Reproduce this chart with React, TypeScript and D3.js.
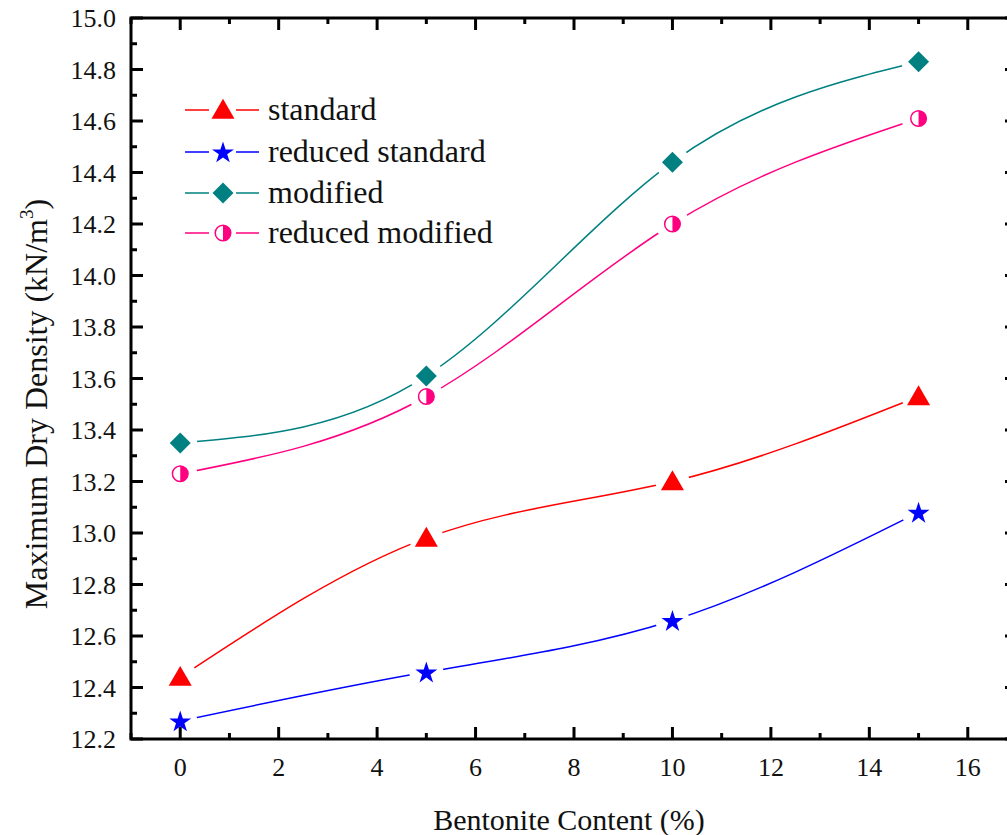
import React from 'react';
import * as d3 from 'd3';

const bentonite = [0, 5, 10, 15];
const standard = [12.44, 12.98, 13.2, 13.53];
const reducedStandard = [12.27, 12.46, 12.66, 13.08];
const modified = [13.35, 13.61, 14.44, 14.83];
const reducedModified = [13.23, 13.53, 14.2, 14.61];
const seriesNames = ['standard', 'reduced standard', 'modified', 'reduced modified'];
const xTicks = [0, 2, 4, 6, 8, 10, 12, 14, 16];
const yTicks = [12.2, 12.4, 12.6, 12.8, 13.0, 13.2, 13.4, 13.6, 13.8, 14.0, 14.2, 14.4, 14.6, 14.8, 15.0];

const W = 1007, H = 835;
const L = 131, R = 1017, T = 18, B = 739;
const ts = { fontFamily: "'Liberation Serif'" };

const x = d3.scaleLinear().domain([-1, 17]).range([L, R]);
const y = d3.scaleLinear().domain([12.2, 15.0]).range([B, T]);

const series = [
  { name: seriesNames[0], values: standard, color: '#FF0000', marker: 'triangle' },
  { name: seriesNames[1], values: reducedStandard, color: '#0000FF', marker: 'star' },
  { name: seriesNames[2], values: modified, color: '#008080', marker: 'diamond' },
  { name: seriesNames[3], values: reducedModified, color: '#FF0080', marker: 'halfcircle' },
];

function Marker({ type, cx, cy, color }: { type: string; cx: number; cy: number; color: string }) {
  if (type === 'triangle') {
    const p = d3.symbol().type(d3.symbolTriangle).size(230)();
    return <path d={p as string} transform={`translate(${cx},${cy + 2})`} fill={color} />;
  }
  if (type === 'star') {
    const p = d3.symbol().type(d3.symbolStar).size(150)();
    return <path d={p as string} transform={`translate(${cx},${cy + 1})`} fill={color} />;
  }
  if (type === 'diamond') {
    const s = 10.5;
    return <path d={`M${cx},${cy - s}L${cx + s},${cy}L${cx},${cy + s}L${cx - s},${cy}Z`} fill={color} />;
  }
  const r = 7.8;
  return (
    <g>
      <circle cx={cx} cy={cy} r={r} fill="#fff" stroke={color} strokeWidth={1.5} />
      <path d={`M${cx},${cy - r}A${r},${r} 0 0 1 ${cx},${cy + r}Z`} fill={color} />
    </g>
  );
}

export default function App() {
  const line = d3.line<number>().curve(d3.curveNatural);
  const minorX = d3.range(-1, 17.01, 1);
  const minorY = d3.range(12.2, 15.001, 0.1);
  const legendY = [110, 152, 193, 233];
  return (
    <svg width={W} height={H} style={{ position: 'absolute', left: 0, top: 0, background: '#fff' }}>
      <defs>
        {series.map((s, i) => (
          <mask id={`m${i}`} key={i} maskUnits="userSpaceOnUse" x={0} y={0} width={W} height={H}>
            <rect x={0} y={0} width={W} height={H} fill="#fff" />
            {bentonite.map((b, j) => (
              <circle key={j} cx={x(b)} cy={y(s.values[j])} r={17} fill="#000" />
            ))}
          </mask>
        ))}
      </defs>
      <rect x={L} y={T} width={R - L} height={B - T} fill="none" stroke="#000" strokeWidth={3} />
      {minorX.map((v) => {
        const major = Math.round(v) % 2 === 0;
        const len = major ? 12 : 6;
        return (
          <g key={`x${v}`}>
            <line x1={x(v)} x2={x(v)} y1={B} y2={B - len} stroke="#000" strokeWidth={3} />
            <line x1={x(v)} x2={x(v)} y1={T} y2={T + len} stroke="#000" strokeWidth={3} />
          </g>
        );
      })}
      {minorY.map((v, i) => {
        const major = i % 2 === 0;
        const len = major ? 12 : 6;
        return (
          <g key={`y${i}`}>
            <line x1={L} x2={L + len} y1={y(v)} y2={y(v)} stroke="#000" strokeWidth={3} />
            <line x1={R} x2={R - len} y1={y(v)} y2={y(v)} stroke="#000" strokeWidth={3} />
          </g>
        );
      })}
      {xTicks.map((v) => (
        <text key={`xl${v}`} x={x(v)} y={776} fontSize={26} textAnchor="middle" fill="#111" style={ts}>{v}</text>
      ))}
      {yTicks.map((v) => (
        <text key={`yl${v}`} x={116} y={y(v) + 9} fontSize={26} textAnchor="end" fill="#111" style={ts}>{v.toFixed(1)}</text>
      ))}
      <text x={569} y={830} fontSize={30} textAnchor="middle" fill="#111" style={ts}>Bentonite Content (%)</text>
      <text transform={`translate(47,404) rotate(-90)`} fontSize={32} textAnchor="middle" fill="#111" style={ts}>
        Maximum Dry Density (kN/m<tspan dy={-14} fontSize={19}>3</tspan><tspan dy={14}>)</tspan>
      </text>
      {series.map((s, i) => (
        <g key={s.name}>
          <path d={line(bentonite.map((b, j) => [x(b), y(s.values[j])]) as any) as string} fill="none" stroke={s.color} strokeWidth={1.5} mask={`url(#m${i})`} />
          {bentonite.map((b, j) => (
            <Marker key={j} type={s.marker} cx={x(b)} cy={y(s.values[j])} color={s.color} />
          ))}
        </g>
      ))}
      {series.map((s, i) => (
        <g key={`lg${i}`}>
          <line x1={185} x2={209} y1={legendY[i]} y2={legendY[i]} stroke={s.color} strokeWidth={1.5} />
          <line x1={236} x2={259} y1={legendY[i]} y2={legendY[i]} stroke={s.color} strokeWidth={1.5} />
          <Marker type={s.marker} cx={223} cy={legendY[i]} color={s.color} />
          <text x={268} y={legendY[i] + 10} fontSize={32} fill="#111" style={ts}>{s.name}</text>
        </g>
      ))}
    </svg>
  );
}
